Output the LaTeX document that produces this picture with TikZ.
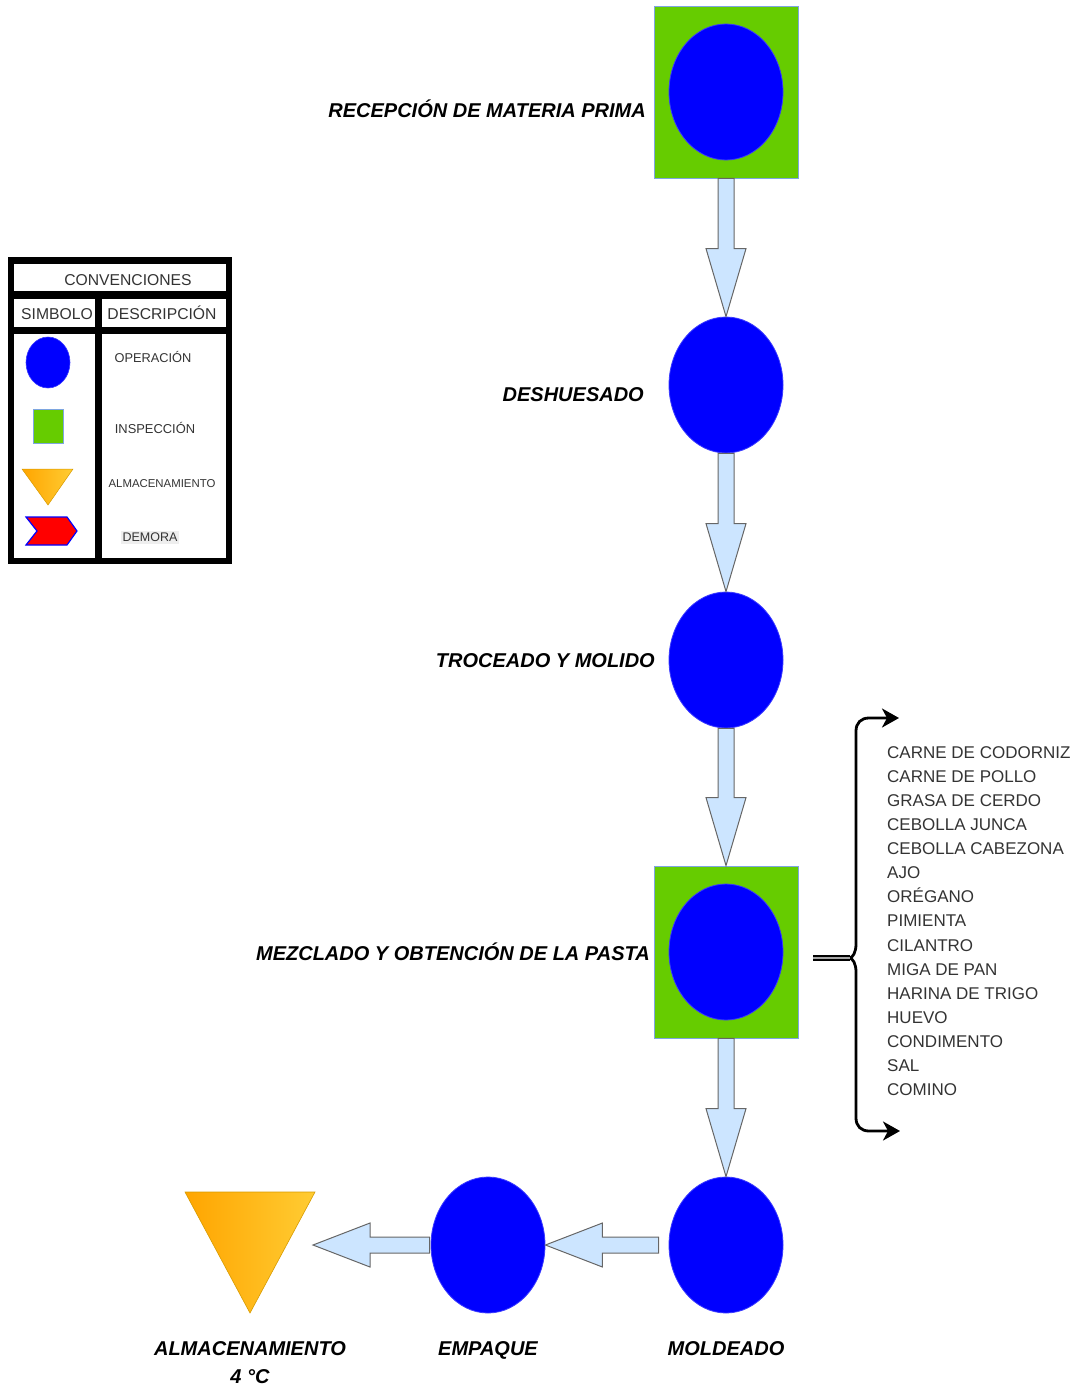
\documentclass[tikz,border=0pt]{standalone}
\usepackage{fontspec}
\setmainfont{Liberation Sans}
\usetikzlibrary{shapes.geometric,calc,arrows.meta}
\definecolor{opblue}{HTML}{0000FF}
\definecolor{opedge}{HTML}{3A3AFF}
\definecolor{insgreen}{HTML}{66CC00}
\definecolor{insedge}{HTML}{7EA6E0}
\definecolor{arrfill}{HTML}{CCE5FF}
\definecolor{arredge}{HTML}{666666}
\definecolor{txtgray}{HTML}{333333}
\definecolor{almA}{HTML}{FFA500}
\definecolor{almB}{HTML}{FFCC33}
\definecolor{almedge}{HTML}{D79B00}
\definecolor{demred}{HTML}{FF0000}
\definecolor{demgray}{HTML}{EEEEEE}
\newcommand\vblockarrow[2]{%
  \draw[barrow] ($(#1.south)+(-8,0)$) -- ($(#2.north)+(-8,-68)$) -- ($(#2.north)+(-20,-68)$) -- (#2.north)
   -- ($(#2.north)+(20,-68)$) -- ($(#2.north)+(8,-68)$) -- ($(#1.south)+(8,0)$) -- cycle;}
\newcommand\hblockarrow[2]{%
  \draw[barrow] ($(#1)+(0,-8)$) -- ($(#2)+(57,-8)$) -- ($(#2)+(57,-22)$) -- (#2)
   -- ($(#2)+(57,22)$) -- ($(#2)+(57,8)$) -- ($(#1)+(0,8)$) -- cycle;}
\begin{document}
\begin{tikzpicture}[x=1pt,y=-1pt,
  op/.style={ellipse, fill=opblue, draw=opedge, line width=0.8pt, minimum width=114pt, minimum height=136pt, inner sep=0pt},
  insp/.style={rectangle, fill=insgreen, draw=insedge, line width=0.8pt, minimum width=144pt, minimum height=172pt, inner sep=0pt},
  lbl/.style={font=\fontsize{20}{24}\selectfont\bfseries\itshape, inner sep=0pt, text height=14.3pt, text depth=0pt},
  barrow/.style={fill=arrfill, draw=arredge, line width=1pt, line join=miter},
  ing/.style={font=\fontsize{17}{20}\selectfont, text=txtgray, inner sep=0pt, anchor=base west},
  legtxt/.style={text=txtgray, inner sep=0pt, text depth=0pt},
  cell/.style={draw=black, line width=3.5pt, inner sep=0pt},
  brace/.style={line width=2.8pt, -{Stealth[length=17pt,width=19pt,inset=5pt]}}]
\useasboundingbox (0,0) rectangle (1083,1388);
% flow nodes
\node[insp] (sq1) at (726,92) {};
\node[op] (e1) at (726,92) {};
\node[op] (e2) at (726,385) {};
\node[op] (e3) at (726,660) {};
\node[insp] (sq2) at (726,952) {};
\node[op] (e4) at (726,952) {};
\node[op] (e5) at (726,1245) {};
\node[op] (e6) at (488,1245) {};
\shade[left color=almA, right color=almB, draw=almedge, line width=0.6pt] (185,1192) -- (315,1192) -- (250,1313) -- cycle;
\coordinate (alm) at (313,1245);
% arrows
\vblockarrow{sq1}{e2}
\vblockarrow{e2}{e3}
\vblockarrow{e3}{sq2}
\vblockarrow{sq2}{e5}
\coordinate (a5) at ($(e5.west)+(-10,0)$);
\coordinate (a6) at ($(e6.west)+(-1,0)$);
\hblockarrow{a5}{e6.east}
\hblockarrow{a6}{alm}
% labels
\node[lbl, anchor=east] (l1) at (646,110) {RECEPCIÓN DE MATERIA PRIMA};
\node[lbl, anchor=east] (l2) at (644,394) {DESHUESADO};
\node[lbl, anchor=east] (l3) at (655,660) {TROCEADO Y MOLIDO};
\node[lbl, anchor=east] (l4) at (650,953) {MEZCLADO Y OBTENCIÓN DE LA PASTA};
\node[lbl] (l5) at (726,1348) {MOLDEADO};
\node[lbl] (l6) at (488,1348) {EMPAQUE};
\node[lbl] (l7) at (250,1348) {ALMACENAMIENTO};
\node[lbl] (l7b) at (250,1376) {4 °C};
% brace and ingredients
\coordinate (bmid) at (849,958);
\coordinate (btop) at (899,718);
\coordinate (bbot) at (900,1131);
\coordinate (dstart) at ($(sq2.east)+(15,6)$);
\draw[brace] (bmid) .. controls (853,958) and (856,952) .. (856,944) -- (856,731) .. controls (856,723) and (861,718) .. (869,718) -- (btop);
\draw[brace] (bmid) .. controls (853,958) and (856,964) .. (856,972) -- (856,1118) .. controls (856,1126) and (861,1131) .. (869,1131) -- (bbot);
\draw[double=gray!70, line width=2.2pt, double distance=1.6pt] (dstart) -- ($(bmid)+(1,0)$);
\foreach \t [count=\i] in {CARNE DE CODORNIZ, CARNE DE POLLO, GRASA DE CERDO, CEBOLLA JUNCA, CEBOLLA CABEZONA, AJO, ORÉGANO, PIMIENTA, CILANTRO, MIGA DE PAN, HARINA DE TRIGO, HUEVO, CONDIMENTO, SAL, COMINO}
  \node[ing] (ing\i) at (887,{758+24.14*(\i-1)}) {\t};
% legend
\node[cell, minimum width=216pt, minimum height=31pt] (lh) at (120,277.5) {};
\node[cell, minimum width=85pt, minimum height=32pt] (ls) at (54.5,313) {};
\node[cell, minimum width=128pt, minimum height=32pt] (ld) at (164,313) {};
\node[cell, minimum width=85pt, minimum height=228pt] (lbl1) at (54.5,446) {};
\node[cell, minimum width=128pt, minimum height=228pt] (lbr) at (164,446) {};
\draw[line width=3pt] (9.5,258.5) rectangle (230.5,562.5);
\node[legtxt, text height=11.3pt, font=\fontsize{15.7}{18}\selectfont] (tconv) at (128,280) {CONVENCIONES};
\node[legtxt, text height=11.3pt, font=\fontsize{15.7}{18}\selectfont] (tsim) at (57,314) {SIMBOLO};
\node[legtxt, text height=11.3pt, font=\fontsize{15.7}{18}\selectfont] (tdes) at (162,314) {DESCRIPCIÓN};
\node[ellipse, fill=opblue, draw=opedge, line width=0.6pt, minimum width=44pt, minimum height=51pt, inner sep=0pt] (lgop) at (48,362.5) {};
\node[rectangle, fill=insgreen, draw=insedge, line width=0.6pt, minimum width=30pt, minimum height=34pt, inner sep=0pt] (lgins) at (48,426) {};
\shade[left color=almA, right color=almB, draw=almedge, line width=0.5pt] (22,469) -- (73,469) -- (48,505) -- cycle;
\draw[fill=demred, draw=opblue, line width=1.2pt] (26,517) -- (67,517) -- (77,531) -- (67,545) -- (26,545) -- (37,531) -- cycle;
\node[legtxt, text height=9.2pt, font=\fontsize{12.8}{15}\selectfont] (top) at (153,358) {OPERACIÓN};
\node[legtxt, text height=9.2pt, font=\fontsize{12.9}{15}\selectfont] (tins) at (155,429) {INSPECCIÓN};
\node[legtxt, text height=8.2pt, font=\fontsize{11.4}{14}\selectfont] (talm) at (162,483) {ALMACENAMIENTO};
\node[legtxt, fill=demgray, inner sep=2pt, text height=9pt, font=\fontsize{12.5}{15}\selectfont] (tdem) at (150,537) {DEMORA};
\end{tikzpicture}
\end{document}
